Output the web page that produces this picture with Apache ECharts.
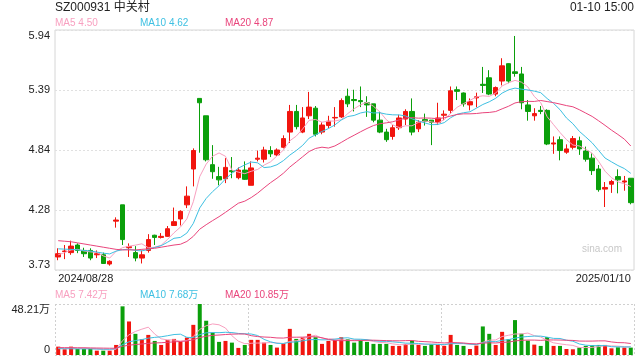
<!DOCTYPE html>
<html>
<head>
<meta charset="utf-8">
<script src="https://cdn.jsdelivr.net/npm/echarts@6.0.0/dist/echarts.min.js"></script>
<style>html,body{margin:0;padding:0;background:#fff;}#c{width:640px;height:360px;}</style>
</head>
<body>
<div id="c"></div>
<script>
// ---------- data ----------
const dates = [
'2024/08/28','2024/08/29','2024/08/30',
'2024/09/02','2024/09/03','2024/09/04','2024/09/05','2024/09/06',
'2024/09/09','2024/09/10','2024/09/11','2024/09/12','2024/09/13',
'2024/09/18','2024/09/19','2024/09/20',
'2024/09/23','2024/09/24','2024/09/25','2024/09/26','2024/09/27',
'2024/09/30',
'2024/10/08','2024/10/09','2024/10/10','2024/10/11',
'2024/10/14','2024/10/15','2024/10/16','2024/10/17','2024/10/18',
'2024/10/21','2024/10/22','2024/10/23','2024/10/24','2024/10/25',
'2024/10/28','2024/10/29','2024/10/30','2024/10/31',
'2024/11/01',
'2024/11/04','2024/11/05','2024/11/06','2024/11/07','2024/11/08',
'2024/11/11','2024/11/12','2024/11/13','2024/11/14','2024/11/15',
'2024/11/18','2024/11/19','2024/11/20','2024/11/21','2024/11/22',
'2024/11/25','2024/11/26','2024/11/27','2024/11/28','2024/11/29',
'2024/12/02','2024/12/03','2024/12/04','2024/12/05','2024/12/06',
'2024/12/09','2024/12/10','2024/12/11','2024/12/12','2024/12/13',
'2024/12/16','2024/12/17','2024/12/18','2024/12/19','2024/12/20',
'2024/12/23','2024/12/24','2024/12/25','2024/12/26','2024/12/27',
'2024/12/30','2024/12/31',
'2025/01/02','2025/01/03',
'2025/01/06','2025/01/07','2025/01/08','2025/01/09','2025/01/10'
];

const openP = [3.85,3.90,3.89,3.96,3.91,3.91,3.87,3.87,3.785,4.18,
4.33,3.935,3.89,3.84,3.91,4.05,4.03,4.04,4.14,4.20,
4.33,4.66,5.31,5.15,4.70,4.59,4.57,4.645,4.58,4.65,
4.51,4.75,4.75,4.83,4.79,4.86,5.00,5.19,5.00,5.15,
5.22,5.00,5.06,5.13,5.14,5.33,5.30,5.29,5.27,5.26,
5.11,5.00,4.96,5.04,5.12,5.19,5.03,5.115,5.11,5.09,
5.155,5.20,5.39,5.36,5.25,5.315,5.44,5.50,5.35,5.47,
5.63,5.555,5.535,5.25,5.15,5.20,5.20,4.89,4.93,4.815,
4.86,4.92,4.825,4.76,4.66,4.475,4.52,4.59,4.54,4.575];

const closeP = [3.88,3.905,3.95,3.91,3.88,3.84,3.88,3.79,3.81,4.19,
4.01,3.945,3.84,3.87,4.01,4.03,4.04,4.11,4.175,4.27,
4.41,4.83,5.27,4.745,4.635,4.56,4.675,4.635,4.65,4.565,
4.67,4.76,4.835,4.80,4.835,4.94,5.19,5.05,5.13,5.23,
4.98,5.065,5.10,5.135,5.29,5.26,5.29,5.28,5.25,5.11,
5.00,4.93,5.04,5.13,5.19,5.00,5.09,5.10,5.09,5.13,
5.165,5.38,5.375,5.26,5.28,5.325,5.43,5.35,5.41,5.61,
5.47,5.54,5.27,5.19,5.17,5.19,4.89,4.90,4.83,4.845,
4.94,4.845,4.75,4.645,4.47,4.49,4.545,4.56,4.55,4.35];

const lowP = [3.82,3.83,3.87,3.885,3.85,3.82,3.84,3.79,3.77,4.12,
3.96,3.85,3.81,3.79,3.89,3.96,4.02,4.035,4.135,4.14,
4.30,4.50,4.81,4.73,4.57,4.51,4.53,4.575,4.565,4.56,
4.51,4.73,4.72,4.77,4.78,4.85,4.90,5.025,4.99,5.12,
4.96,4.98,5.035,5.05,5.13,5.23,5.19,5.23,5.14,5.09,
4.99,4.91,4.93,5.02,5.065,4.97,5.00,5.06,4.88,5.065,
5.11,5.17,5.295,5.234,5.20,5.228,5.36,5.34,5.33,5.43,
5.45,5.51,5.21,5.105,5.105,5.165,4.88,4.80,4.74,4.80,
4.84,4.79,4.728,4.605,4.451,4.31,4.44,4.436,4.46,4.335];

const highP = [3.93,3.96,4.00,3.975,3.935,3.93,3.91,3.89,3.82,4.215,
4.33,3.975,3.95,3.91,4.06,4.055,4.07,4.135,4.305,4.28,
4.50,4.85,5.31,5.15,4.88,4.68,4.76,4.77,4.675,4.73,
4.73,4.83,4.865,4.87,4.85,4.97,5.25,5.25,5.23,5.37,
5.24,5.09,5.15,5.23,5.31,5.40,5.39,5.42,5.33,5.26,
5.19,5.03,5.065,5.16,5.21,5.31,5.11,5.17,5.11,5.27,
5.20,5.42,5.42,5.365,5.31,5.363,5.60,5.57,5.42,5.68,
5.633,5.885,5.60,5.295,5.22,5.24,5.21,4.96,4.96,4.887,
4.964,4.958,4.866,4.804,4.697,4.54,4.56,4.657,4.596,4.575];

const ma5 = [3.87,3.89,3.915,3.92,3.905,3.897,3.892,3.86,3.84,3.902,
3.936,3.949,3.959,3.971,3.935,3.939,3.958,4.012,4.073,4.125,
4.201,4.359,4.591,4.705,4.778,4.808,4.777,4.65,4.631,4.617,
4.639,4.656,4.696,4.726,4.78,4.834,4.92,4.963,5.029,5.108,
5.116,5.091,5.101,5.102,5.114,5.17,5.215,5.251,5.274,5.238,
5.186,5.114,5.066,5.042,5.058,5.058,5.09,5.102,5.094,5.082,
5.115,5.173,5.228,5.262,5.292,5.324,5.334,5.329,5.359,5.425,
5.454,5.476,5.46,5.416,5.328,5.272,5.142,5.068,4.996,4.931,
4.881,4.872,4.842,4.805,4.73,4.64,4.58,4.542,4.523,4.499];

const ma10 = [3.925,3.922,3.92,3.915,3.91,3.905,3.895,3.885,3.878,3.904,
3.917,3.921,3.910,3.906,3.919,3.938,3.954,3.986,4.022,4.03,
4.07,4.159,4.302,4.389,4.452,4.505,4.568,4.621,4.668,4.698,
4.724,4.717,4.673,4.679,4.699,4.737,4.788,4.830,4.878,4.944,
4.975,5.006,5.032,5.066,5.111,5.143,5.153,5.176,5.188,5.176,
5.178,5.165,5.159,5.158,5.148,5.122,5.102,5.084,5.068,5.07,
5.087,5.132,5.165,5.178,5.187,5.220,5.254,5.279,5.311,5.359,
5.389,5.405,5.395,5.388,5.377,5.363,5.309,5.264,5.206,5.130,
5.077,5.007,4.955,4.901,4.831,4.761,4.726,4.692,4.664,4.62];

const ma20 = [4.00,3.995,3.99,3.98,3.97,3.96,3.95,3.94,3.93,3.92,
3.915,3.915,3.915,3.92,3.925,3.93,3.94,3.95,3.96,3.967,
3.993,4.040,4.106,4.147,4.185,4.221,4.261,4.303,4.345,4.364,
4.397,4.438,4.487,4.534,4.575,4.621,4.678,4.725,4.773,4.821,
4.849,4.861,4.853,4.872,4.905,4.940,4.971,5.003,5.033,5.06,
5.077,5.085,5.095,5.112,5.130,5.133,5.128,5.13,5.128,5.123,
5.132,5.148,5.162,5.168,5.168,5.171,5.178,5.181,5.189,5.214,
5.238,5.268,5.280,5.283,5.282,5.291,5.281,5.271,5.258,5.244,
5.233,5.206,5.175,5.144,5.104,5.062,5.018,4.978,4.935,4.872];

// volume in 万 (10,000 lots)
const vol = [7.9,5.4,7.9,5.7,5.7,5.7,4.1,4.1,4.1,9.5,
46.0,31.7,20.0,14.9,19.0,13.3,9.5,14.3,15.2,12.7,
16.5,28.5,48.21,32.4,21.3,12.4,13.3,11.7,6.7,9.5,
14.3,14.3,11.7,9.5,7.0,11.1,24.7,15.2,16.5,20.0,
16.8,10.5,13.3,14.3,16.8,14.9,11.7,14.3,12.4,10.5,
10.5,10.5,8.6,8.6,10.5,13.6,9.5,8.6,10.2,9.5,
8.6,19.0,9.5,8.6,5.7,8.9,27.0,20.0,9.5,21.9,
14.9,33.0,20.2,13.6,9.8,8.6,17.0,8.6,8.6,5.7,
5.4,7.0,8.6,9.2,9.5,9.5,6.3,7.3,7.0,7.0];

const vma5 = [6.4,6.5,6.7,6.6,6.52,6.08,5.82,5.06,4.74,5.5,
13.56,19.08,22.26,24.42,26.32,19.78,15.34,14.2,14.26,13.0,
13.64,17.44,24.22,27.66,29.38,28.56,25.52,18.22,13.08,10.72,
11.1,11.3,11.3,11.86,11.36,10.72,12.8,13.5,14.9,17.5,
18.64,15.8,15.42,14.98,14.34,13.96,14.2,14.4,14.02,12.76,
11.88,11.64,10.5,9.74,9.74,10.36,10.16,10.16,10.48,10.28,
9.28,11.18,11.36,11.04,10.28,10.34,11.94,14.04,14.22,17.46,
18.66,19.86,19.9,20.72,18.3,17.04,13.84,11.52,10.52,9.7,
9.06,7.06,7.06,7.18,7.94,8.76,8.62,8.36,7.92,7.42];

const vma10 = [6.0,5.9,5.9,5.8,5.8,5.8,5.6,5.5,5.4,6.01,
9.82,12.45,13.66,14.58,15.91,16.67,17.21,18.23,19.34,19.66,
16.71,16.39,19.21,20.96,21.19,21.10,21.48,21.22,20.37,20.05,
19.83,18.41,14.76,12.47,11.04,10.91,12.05,12.4,13.38,14.43,
14.68,14.3,14.46,14.94,15.92,16.3,15.0,14.91,14.5,13.55,
12.92,12.92,12.45,11.88,11.25,11.12,10.9,10.33,10.11,10.01,
9.82,10.67,10.76,10.76,10.28,9.81,11.56,12.7,12.63,13.87,
14.5,15.9,16.97,17.47,17.88,17.85,16.85,15.71,15.62,14.0,
13.05,10.45,9.29,8.85,8.82,8.91,7.84,7.71,7.55,7.68];

const vma20 = [7.0,6.9,6.9,6.8,6.8,6.7,6.6,6.5,6.4,6.4,
8.2,9.3,9.9,10.4,11.0,11.4,11.6,12.0,12.4,12.84,
13.27,14.42,16.44,17.77,18.55,18.89,19.35,19.73,19.86,19.86,
18.27,17.4,16.99,16.72,16.12,16.01,16.77,16.81,16.88,17.24,
17.26,16.36,14.61,13.71,13.48,13.61,13.53,13.66,13.94,13.99,
13.8,13.61,13.46,13.41,13.59,13.71,12.95,12.62,12.31,11.78,
11.37,11.8,11.61,11.32,10.77,10.47,11.23,11.52,11.37,11.94,
12.16,13.29,13.87,14.12,14.08,13.83,14.21,14.21,14.13,13.94,
13.78,13.18,13.13,13.16,13.35,13.38,12.35,11.71,11.59,10.85];

const priceTickLabels = ['3.73','4.28','4.84','5.39','5.94'];
const volTickLabels = ['0','48.21万'];
const titleText = 'SZ000931 中关村';
const timeText = '01-10 15:00';

// ---------- chart ----------
const FONT = '"Liberation Sans", Arial, "Noto Sans CJK SC", sans-serif';
const RED = '#f1150e', GREEN = '#0b9f0b';
const C5 = '#f8a0c0', C10 = '#3ec0e2', C20 = '#e9457c';
const GRIDC = '#e0e0e0';
const PMIN = 3.73, PMAX = 5.94, PSTEP = (PMAX - PMIN) / 4;

const n5 = 'MA5 ' + ma5[ma5.length - 1].toFixed(2);
const n10 = 'MA10 ' + ma10[ma10.length - 1].toFixed(2);
const n20 = 'MA20 ' + ma20[ma20.length - 1].toFixed(2);
const vn5 = 'MA5 ' + vma5[vma5.length - 1].toFixed(2) + '万';
const vn10 = 'MA10 ' + vma10[vma10.length - 1].toFixed(2) + '万';
const vn20 = 'MA20 ' + vma20[vma20.length - 1].toFixed(2) + '万';

function legendAt(name, color, left, top) {
  return {
    data: [{ name: name, icon: 'none', textStyle: { color: color } }],
    left: left, top: top, padding: 0, itemWidth: 0, itemHeight: 10, itemGap: 0,
    selectedMode: false,
    textStyle: { fontSize: 10, fontFamily: FONT, padding: 0 }
  };
}

const chart = echarts.init(document.getElementById('c'), null, { renderer: 'canvas' });
const option = {
  animation: false,
  backgroundColor: '#fff',
  textStyle: { fontFamily: FONT },
  title: [
    { text: titleText, left: 55, top: 2, padding: 0,
      textStyle: { fontSize: 12, fontWeight: 'normal', color: '#222', fontFamily: FONT } },
    { text: timeText, right: 6, top: 2, padding: 0,
      textStyle: { fontSize: 12, fontWeight: 'normal', color: '#222', fontFamily: FONT } }
  ],
  legend: [
    legendAt(n5, C5, 50, 18), legendAt(n10, C10, 135, 18), legendAt(n20, C20, 220, 18),
    legendAt(vn5, C5, 50, 290), legendAt(vn10, C10, 135, 290), legendAt(vn20, C20, 220, 290)
  ],
  graphic: [{
    type: 'text', right: 18, top: 244,
    style: { text: 'sina.com', fill: '#c8c8c8', fontSize: 10, fontFamily: FONT }
  }],
  grid: [
    { left: 55, right: 6, top: 30, height: 240, show: true, borderColor: '#d6d6d6', borderWidth: 1 },
    { left: 55, right: 6, top: 304, height: 51 }
  ],
  xAxis: [
    { type: 'category', gridIndex: 0, data: dates, boundaryGap: true,
      axisLine: { show: false }, axisTick: { show: false }, splitLine: { show: false },
      axisLabel: { interval: function (i) { return i === 0 || i === dates.length - 1; },
        margin: 3, fontSize: 11, color: '#222', fontFamily: FONT,
        alignMinLabel: 'left', alignMaxLabel: 'right', hideOverlap: false } },
    { type: 'category', gridIndex: 1, data: dates, boundaryGap: true,
      axisLine: { show: false }, axisTick: { show: false }, axisLabel: { show: false },
      splitLine: { show: true, interval: function (i) { return i % 30 === 0; },
        lineStyle: { type: [2, 2], color: '#d0d0d0', width: 1 } } }
  ],
  yAxis: [
    { type: 'value', gridIndex: 0, min: PMIN, max: PMAX, interval: PSTEP, scale: true,
      axisLine: { show: false }, axisTick: { show: false },
      axisLabel: { margin: 5, fontSize: 11, color: '#222', fontFamily: FONT,
        verticalAlignMinLabel: 'bottom', verticalAlignMaxLabel: 'top',
        formatter: function (v) { return priceTickLabels[Math.round((v - PMIN) / PSTEP)]; } },
      splitLine: { show: true, lineStyle: { type: [2, 2], color: GRIDC, width: 1 } } },
    { type: 'value', gridIndex: 1, min: 0, max: vol.reduce((a, b) => Math.max(a, b), 0),
      interval: vol.reduce((a, b) => Math.max(a, b), 0),
      axisLine: { show: false }, axisTick: { show: false },
      axisLabel: { margin: 5, fontSize: 11, color: '#222', fontFamily: FONT,
        verticalAlignMinLabel: 'bottom', verticalAlignMaxLabel: 'top',
        formatter: function (v) { return v === 0 ? volTickLabels[0] : volTickLabels[1]; } },
      splitLine: { show: true, lineStyle: { type: [2, 2], color: '#d0d0d0', width: 1 } } }
  ],
  series: [
    { type: 'candlestick', name: 'K', xAxisIndex: 0, yAxisIndex: 0, barWidth: 5,
      data: dates.map((d, i) => [openP[i], closeP[i], lowP[i], highP[i]]),
      itemStyle: { color: RED, color0: GREEN, borderColor: RED, borderColor0: GREEN, borderWidth: 1 } },
    { type: 'line', name: n5, xAxisIndex: 0, yAxisIndex: 0, data: ma5, symbol: 'none',
      lineStyle: { width: 1, color: C5 }, itemStyle: { color: C5 }, z: 3 },
    { type: 'line', name: n10, xAxisIndex: 0, yAxisIndex: 0, data: ma10, symbol: 'none',
      lineStyle: { width: 1, color: C10 }, itemStyle: { color: C10 }, z: 3 },
    { type: 'line', name: n20, xAxisIndex: 0, yAxisIndex: 0, data: ma20, symbol: 'none',
      lineStyle: { width: 1, color: C20 }, itemStyle: { color: C20 }, z: 3 },
    { type: 'bar', name: 'VOL', xAxisIndex: 1, yAxisIndex: 1, barWidth: 4,
      data: vol.map((v, i) => ({ value: v, itemStyle: { color: closeP[i] >= openP[i] ? RED : GREEN } })) },
    { type: 'line', name: vn5, xAxisIndex: 1, yAxisIndex: 1, data: vma5, symbol: 'none',
      lineStyle: { width: 1, color: C5 }, itemStyle: { color: C5 }, z: 3 },
    { type: 'line', name: vn10, xAxisIndex: 1, yAxisIndex: 1, data: vma10, symbol: 'none',
      lineStyle: { width: 1, color: C10 }, itemStyle: { color: C10 }, z: 3 },
    { type: 'line', name: vn20, xAxisIndex: 1, yAxisIndex: 1, data: vma20, symbol: 'none',
      lineStyle: { width: 1, color: C20 }, itemStyle: { color: C20 }, z: 3 }
  ]
};
chart.setOption(option);
</script>
</body>
</html>
